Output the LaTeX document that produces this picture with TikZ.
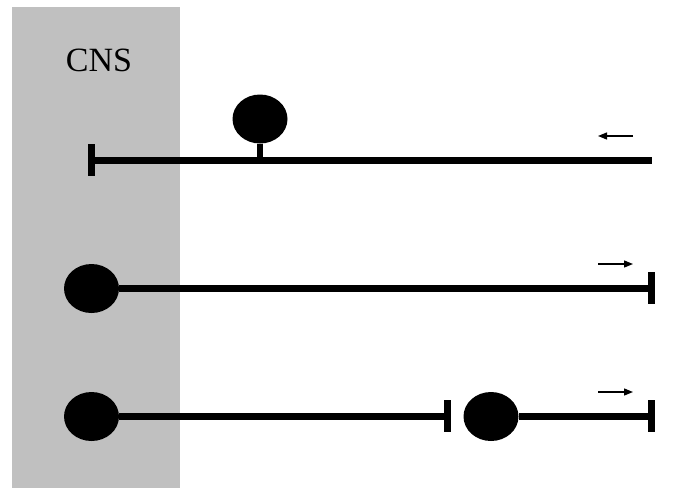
\documentclass[tikz,border=0pt]{standalone}
\usepackage{fontspec}
\setmainfont{Liberation Serif}
\usetikzlibrary{shapes.geometric,arrows.meta}
\definecolor{cnsgray}{HTML}{C0C0C0}
\begin{document}
\begin{tikzpicture}[x=1pt,y=-1pt,
  soma/.style={ellipse,fill=black,draw=none,minimum width=55pt,minimum height=49pt,inner sep=0pt},
  axon/.style={line width=7pt},
  endbar/.style={line width=7pt},
  dirarrow/.style={line width=1.3pt,-{Triangle[length=9pt,width=7pt]}}]
\useasboundingbox (0,0) rectangle (684,496);
\fill[cnsgray] (12,7) rectangle (180,488);
\node (cns) at (99,60) {\fontsize{34}{40}\selectfont CNS};
% row 1
\coordinate (b1) at (91.5,160.5);
\coordinate (e1) at (652,160.5);
\draw[endbar] (91.5,144) -- (91.5,176);
\draw[axon] (b1) -- (e1);
\node[soma] (s1) at (260,119) {};
\coordinate (st1) at (260,160.5);
\draw[line width=6pt] (s1.south) -- (st1);
\coordinate (a1s) at (633,136);
\coordinate (a1e) at (598,136);
\draw[dirarrow] (a1s) -- (a1e);
% row 2
\node[soma] (s2) at (91.5,288.5) {};
\coordinate (e2) at (651.5,288.5);
\draw[axon] (s2.east) -- (e2);
\draw[endbar] (651.5,272) -- (651.5,304);
\coordinate (a2s) at (598,264);
\coordinate (a2e) at (633,264);
\draw[dirarrow] (a2s) -- (a2e);
% row 3
\node[soma] (s3) at (91.5,416.5) {};
\coordinate (m3) at (447.5,416.5);
\draw[axon] (s3.east) -- (m3);
\draw[endbar] (447.5,400) -- (447.5,432);
\node[soma] (s4) at (491,416.5) {};
\coordinate (e3) at (651.5,416.5);
\draw[axon] (s4.east) -- (e3);
\draw[endbar] (651.5,400) -- (651.5,432);
\coordinate (a3s) at (598,392);
\coordinate (a3e) at (633,392);
\draw[dirarrow] (a3s) -- (a3e);
\end{tikzpicture}
\end{document}
